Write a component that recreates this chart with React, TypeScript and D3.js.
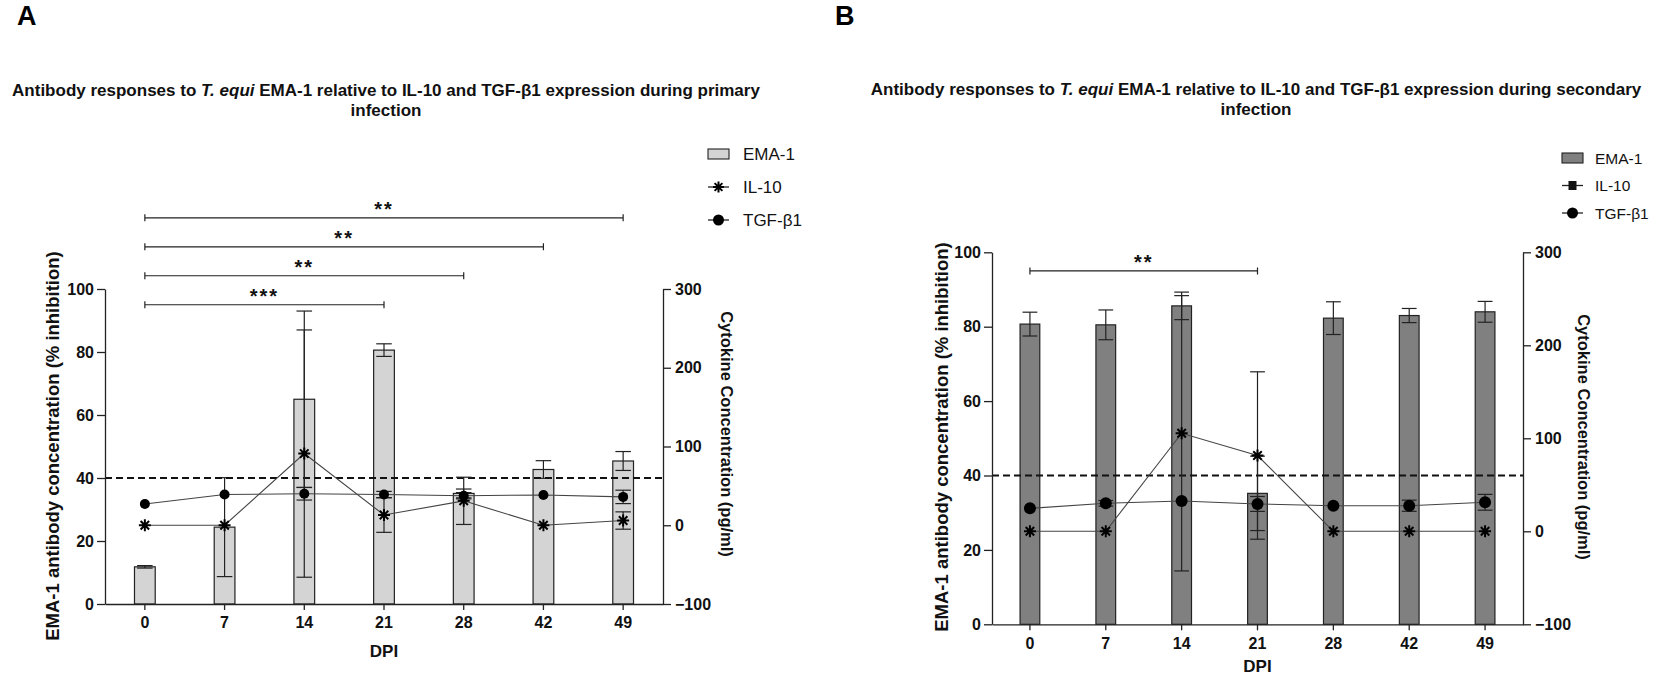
import { useEffect, useRef } from 'react'
import * as d3 from 'd3'

const DPI = ['0', '7', '14', '21', '28', '42', '49']
const LEFT_TICKS = [0, 20, 40, 60, 80, 100]
const RIGHT_TICKS = [-100, 0, 100, 200, 300]
const CUTOFF = 40
const LEGEND_LABELS = ['EMA-1', 'IL-10', 'TGF-β1']

// primary infection
const EMA_PRIMARY = [11.8, 24.4, 65, 80.6, 35.1, 42.7, 45.4]
const EMA_PRIMARY_SD = [0.4, 15.7, 28, 2, 1.4, 2.8, 3]
const IL10_PRIMARY = [0, 0, 91, 13, 31, 0, 6]
const IL10_PRIMARY_SD = [0, 0, 157, 22, 30, 0, 11]
const TGF_PRIMARY = [27, 39, 40, 39, 37.5, 38.5, 36]
const TGF_PRIMARY_SD = [0, 0, 8, 4, 4, 0, 8.5]
const SIG_PRIMARY = [
  { to: '21', label: '***' },
  { to: '28', label: '**' },
  { to: '42', label: '**' },
  { to: '49', label: '**' },
]

// secondary infection
const EMA_SECONDARY = [80.7, 80.5, 85.6, 35.2, 82.3, 83.0, 84.0]
const EMA_SECONDARY_SD = [3.2, 4, 3.7, 10, 4.4, 1.9, 2.8]
const IL10_SECONDARY = [0, 0, 105.4, 81.5, 0, 0, 0]
const IL10_SECONDARY_SD = [0, 0, 148, 90, 0, 0, 0]
const TGF_SECONDARY = [24.7, 30.1, 32.6, 29.4, 27.5, 27.5, 31.2]
const TGF_SECONDARY_SD = [0, 3, 0, 8, 0, 6, 8.5]
const SIG_SECONDARY = [{ to: '21', label: '**' }]

const FONT = "'Liberation Sans', Arial, Helvetica, sans-serif"
const INK = '#222'

type Panel = {
  letter: string
  letterX: number
  x0: number
  x1: number
  y0: number
  y1: number
  fill: string
  phase: string
  titleX: number
  titleY: number
  legendX: number
  legendY: number
  legendStep: number
  legendFont: number
  legendTextDx: number
  leftLabelX: number
  leftLabelY: number
  rightLabelX: number
  rightLabelY: number
  dpiY: number
  dotR: number
  squareLegend: boolean
  ema: number[]
  emaSd: number[]
  il10: number[]
  il10Sd: number[]
  tgf: number[]
  tgfSd: number[]
  sig: { to: string; label: string }[]
}

const asteriskPath = (r: number) => {
  const d = r * Math.SQRT1_2
  return `M0,${-r}V${r}M${-r},0H${r}M${-d},${-d}L${d},${d}M${-d},${d}L${d},${-d}`
}

function drawPanel(svg: d3.Selection<SVGSVGElement, unknown, null, undefined>, p: Panel) {
  const g = svg.append('g').attr('font-family', FONT)
  const x = d3.scaleBand<string>().domain(DPI).range([p.x0, p.x1]).padding(0)
  const yL = d3.scaleLinear().domain([0, 100]).range([p.y0, p.y1])
  const yR = d3.scaleLinear().domain([-100, 300]).range([p.y0, p.y1])
  const cx = (d: string) => (x(d) ?? 0) + x.bandwidth() / 2
  const barW = x.bandwidth() * 0.26
  const capW = barW * 0.75

  // panel letter
  g.append('text')
    .attr('x', p.letterX)
    .attr('y', 25)
    .attr('font-size', 27)
    .attr('font-weight', 'bold')
    .attr('fill', '#000')
    .text(p.letter)

  // title
  const title = g
    .append('text')
    .attr('x', p.titleX)
    .attr('y', p.titleY)
    .attr('text-anchor', 'middle')
    .attr('font-size', 17)
    .attr('font-weight', 'bold')
    .attr('fill', '#111')
  title.append('tspan').text('Antibody responses to ')
  title.append('tspan').attr('font-style', 'italic').text('T. equi')
  title.append('tspan').text(` EMA-1 relative to IL-10 and TGF-β1 expression during ${p.phase}`)
  g.append('text')
    .attr('x', p.titleX)
    .attr('y', p.titleY + 20)
    .attr('text-anchor', 'middle')
    .attr('font-size', 17)
    .attr('font-weight', 'bold')
    .attr('fill', '#111')
    .text('infection')

  const errorBars = (vals: number[], sds: number[], y: d3.ScaleLinear<number, number>) => {
    const eg = g.append('g').attr('stroke', INK).attr('stroke-width', 1.2)
    DPI.forEach((d, i) => {
      if (!sds[i]) return
      const xc = cx(d)
      const top = y(vals[i] + sds[i])
      const bot = y(vals[i] - sds[i])
      eg.append('line').attr('x1', xc).attr('x2', xc).attr('y1', top).attr('y2', bot)
      eg.append('line').attr('x1', xc - capW / 2).attr('x2', xc + capW / 2).attr('y1', top).attr('y2', top)
      eg.append('line').attr('x1', xc - capW / 2).attr('x2', xc + capW / 2).attr('y1', bot).attr('y2', bot)
    })
  }

  // bars
  g.append('g')
    .selectAll('rect')
    .data(DPI)
    .join('rect')
    .attr('x', (d) => cx(d) - barW / 2)
    .attr('y', (_, i) => yL(p.ema[i]))
    .attr('width', barW)
    .attr('height', (_, i) => p.y0 - yL(p.ema[i]))
    .attr('fill', p.fill)
    .attr('stroke', INK)
    .attr('stroke-width', 1.2)
  errorBars(p.ema, p.emaSd, yL)

  // cut-off
  g.append('line')
    .attr('x1', p.x0)
    .attr('x2', p.x1)
    .attr('y1', yL(CUTOFF))
    .attr('y2', yL(CUTOFF))
    .attr('stroke', '#111')
    .attr('stroke-width', 2)
    .attr('stroke-dasharray', '7,4')

  // cytokine lines
  const line = d3
    .line<number>()
    .x((_, i) => cx(DPI[i]))
    .y((v) => yR(v))
  g.append('path').attr('d', line(p.il10)).attr('fill', 'none').attr('stroke', '#444').attr('stroke-width', 1.1)
  g.append('path').attr('d', line(p.tgf)).attr('fill', 'none').attr('stroke', '#444').attr('stroke-width', 1.1)
  errorBars(p.il10, p.il10Sd, yR)
  errorBars(p.tgf, p.tgfSd, yR)

  g.append('g')
    .selectAll('path')
    .data(p.il10)
    .join('path')
    .attr('transform', (v, i) => `translate(${cx(DPI[i])},${yR(v)})`)
    .attr('d', asteriskPath(6))
    .attr('stroke', '#000')
    .attr('stroke-width', 2)
    .attr('fill', 'none')
  g.append('g')
    .selectAll('circle')
    .data(p.tgf)
    .join('circle')
    .attr('cx', (_, i) => cx(DPI[i]))
    .attr('cy', (v) => yR(v))
    .attr('r', p.dotR)
    .attr('fill', '#000')

  // significance brackets
  const sg = g.append('g')
  p.sig.forEach((s, i) => {
    const xs = cx(DPI[0])
    const xe = cx(s.to)
    const yy = yL(95 + i * 9.2)
    sg.append('path')
      .attr('d', `M${xs},${yy - 3.5}V${yy + 3.5}M${xs},${yy}H${xe}M${xe},${yy - 3.5}V${yy + 3.5}`)
      .attr('stroke', INK)
      .attr('stroke-width', 1.2)
      .attr('fill', 'none')
    sg.append('text')
      .attr('x', (xs + xe) / 2)
      .attr('y', yy - 1.5)
      .attr('text-anchor', 'middle')
      .attr('font-size', 20)
      .attr('font-weight', 'bold')
      .attr('letter-spacing', 2)
      .attr('fill', '#111')
      .text(s.label)
  })

  // axes
  const styleAxis = (a: d3.Selection<SVGGElement, unknown, null, undefined>) => {
    a.attr('font-family', FONT).attr('font-size', 16)
    a.selectAll('.domain').attr('stroke', INK).attr('stroke-width', 1.3)
    a.selectAll('.tick line').attr('stroke', INK).attr('stroke-width', 1.3)
    a.selectAll('.tick text').attr('fill', '#111').attr('font-weight', 'bold')
  }
  g.append('g')
    .attr('transform', `translate(${p.x0},0)`)
    .call(d3.axisLeft(yL).tickValues(LEFT_TICKS).tickSize(8).tickPadding(3).tickSizeOuter(0))
    .call(styleAxis)
  g.append('g')
    .attr('transform', `translate(${p.x1},0)`)
    .call(d3.axisRight(yR).tickValues(RIGHT_TICKS).tickSize(8).tickPadding(4).tickSizeOuter(0))
    .call(styleAxis)
  g.append('g')
    .attr('transform', `translate(0,${p.y0})`)
    .call(d3.axisBottom(x).tickSize(6).tickPadding(7).tickSizeOuter(0))
    .call(styleAxis)

  // axis titles
  g.append('text')
    .attr('transform', `translate(${p.leftLabelX},${p.leftLabelY}) rotate(-90)`)
    .attr('text-anchor', 'middle')
    .attr('dominant-baseline', 'central')
    .attr('font-size', 18.5)
    .attr('font-weight', 'bold')
    .attr('fill', '#111')
    .text('EMA-1 antibody concentration (% inhibition)')
  g.append('text')
    .attr('transform', `translate(${p.rightLabelX},${p.rightLabelY}) rotate(90)`)
    .attr('text-anchor', 'middle')
    .attr('dominant-baseline', 'central')
    .attr('font-size', 16.5)
    .attr('font-weight', 'bold')
    .attr('fill', '#111')
    .text('Cytokine Concentration (pg/ml)')
  g.append('text')
    .attr('x', (p.x0 + p.x1) / 2)
    .attr('y', p.dpiY)
    .attr('text-anchor', 'middle')
    .attr('dominant-baseline', 'central')
    .attr('font-size', 17)
    .attr('font-weight', 'bold')
    .attr('fill', '#111')
    .text('DPI')

  // legend
  const lg = g.append('g')
  const lx = p.legendX
  LEGEND_LABELS.forEach((label, i) => {
    const ly = p.legendY + i * p.legendStep
    if (i === 0) {
      lg.append('rect')
        .attr('x', lx)
        .attr('y', ly - 5)
        .attr('width', 21)
        .attr('height', 10)
        .attr('fill', p.fill)
        .attr('stroke', INK)
        .attr('stroke-width', 1.1)
    } else {
      lg.append('line')
        .attr('x1', lx)
        .attr('x2', lx + 21)
        .attr('y1', ly)
        .attr('y2', ly)
        .attr('stroke', INK)
        .attr('stroke-width', 1.3)
      if (i === 1 && p.squareLegend) {
        lg.append('rect').attr('x', lx + 6.5).attr('y', ly - 4.5).attr('width', 8).attr('height', 9).attr('fill', '#111')
      } else if (i === 1) {
        lg.append('path')
          .attr('transform', `translate(${lx + 10.5},${ly})`)
          .attr('d', asteriskPath(5.5))
          .attr('stroke', '#000')
          .attr('stroke-width', 2)
      } else {
        lg.append('circle').attr('cx', lx + 10.5).attr('cy', ly).attr('r', 5.5).attr('fill', '#000')
      }
    }
    lg.append('text')
      .attr('x', lx + p.legendTextDx)
      .attr('y', ly)
      .attr('dominant-baseline', 'central')
      .attr('font-size', p.legendFont)
      .attr('fill', '#111')
      .text(label)
  })
}

export default function App() {
  const svgRef = useRef<SVGSVGElement>(null)

  useEffect(() => {
    if (!svgRef.current) return
    const svg = d3.select(svgRef.current)
    svg.selectAll('*').remove()

    drawPanel(svg, {
      letter: 'A',
      letterX: 17,
      x0: 105,
      x1: 663,
      y0: 604,
      y1: 289,
      fill: '#d4d4d4',
      phase: 'primary',
      titleX: 386,
      titleY: 96,
      legendX: 708,
      legendY: 154,
      legendStep: 33,
      legendFont: 17,
      legendTextDx: 35,
      leftLabelX: 52,
      leftLabelY: 446,
      rightLabelX: 727,
      rightLabelY: 434,
      dpiY: 651,
      dotR: 5,
      squareLegend: false,
      ema: EMA_PRIMARY,
      emaSd: EMA_PRIMARY_SD,
      il10: IL10_PRIMARY,
      il10Sd: IL10_PRIMARY_SD,
      tgf: TGF_PRIMARY,
      tgfSd: TGF_PRIMARY_SD,
      sig: SIG_PRIMARY,
    })

    drawPanel(svg, {
      letter: 'B',
      letterX: 835,
      x0: 992,
      x1: 1523,
      y0: 624.3,
      y1: 252.3,
      fill: '#808080',
      phase: 'secondary',
      titleX: 1256,
      titleY: 95,
      legendX: 1562,
      legendY: 158,
      legendStep: 27.5,
      legendFont: 15.5,
      legendTextDx: 33,
      leftLabelX: 941,
      leftLabelY: 437,
      rightLabelX: 1584,
      rightLabelY: 437,
      dpiY: 666,
      dotR: 6,
      squareLegend: true,
      ema: EMA_SECONDARY,
      emaSd: EMA_SECONDARY_SD,
      il10: IL10_SECONDARY,
      il10Sd: IL10_SECONDARY_SD,
      tgf: TGF_SECONDARY,
      tgfSd: TGF_SECONDARY_SD,
      sig: SIG_SECONDARY,
    })
  }, [])

  return (
    <svg
      ref={svgRef}
      width={1654}
      height={674}
      style={{ position: 'absolute', left: 0, top: 0, background: '#fff' }}
    />
  )
}
